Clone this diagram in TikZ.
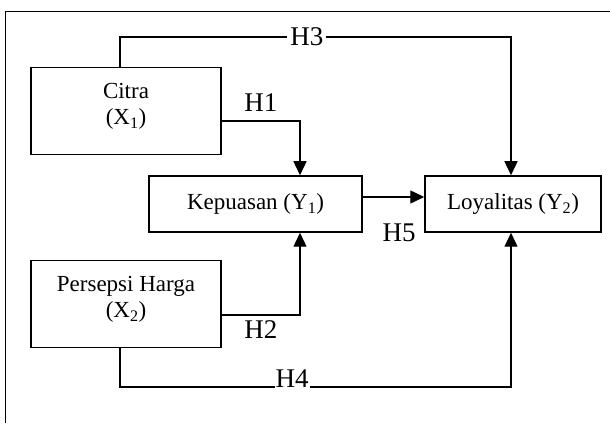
\documentclass[tikz,border=0pt]{standalone}
\usepackage{fontspec}
\setmainfont{Liberation Serif}
\usepackage{xcolor}
\usetikzlibrary{arrows.meta}

\tikzset{
  varbox/.style={draw=drawColor,line width=1.5pt,inner xsep=0pt,inner ysep=0pt,
    align=center,font=\fontsize{23}{26}\selectfont},
  xbox/.style={varbox,minimum width=190pt,text height=57pt,text depth=30pt},
  link/.style={draw=drawColor,line width=1.4pt,-{Triangle[length=14pt,width=13pt]}},
  hyp/.style={text=drawColor,inner sep=1pt,font=\fontsize{27}{30}\selectfont}
}

\begin{document}
\begin{tikzpicture}[x=1pt,y=1pt]
\definecolor{drawColor}{RGB}{0,0,0}
\definecolor{fillColor}{RGB}{255,255,255}
\path[use as bounding box,fill=fillColor] (0,0) rectangle (610,423);

% frame
\path[draw=drawColor,line width=1.2pt] (610,411.5) -- (5.5,411.5) -- (5.5,0);

% variables
\node[xbox] (citra) at (126,312) {Citra\\(X\textsubscript{1})};
\node[xbox] (persepsi) at (126,119) {Persepsi Harga\\(X\textsubscript{2})};
\node[varbox,minimum width=213pt,minimum height=56pt] (kepuasan) at (255.5,219) {Kepuasan (Y\textsubscript{1})};
\node[varbox,minimum width=176pt,minimum height=56pt] (loyalitas) at (513,219) {Loyalitas (Y\textsubscript{2})};

% bends of the paths
\coordinate (h3l) at (120,386);
\coordinate (h3r) at (511,386);
\coordinate (h4l) at (120,36);
\coordinate (h4r) at (511,36);
\coordinate (h1j) at (300,302);
\coordinate (h2j) at (300,108);
\coordinate (h5y) at (393,226);

% hypotheses
\draw[link] (citra.east |- h1j) -- node[hyp,above=8pt] (h1) {H1} (h1j) -- (kepuasan.north -| h1j);
\draw[link] (persepsi.east |- h2j) -- node[hyp,below=4pt] (h2) {H2} (h2j) -- (kepuasan.south -| h2j);
\draw[link] (citra.north -| h3l) -- (h3l)
  -- node[hyp,pos=0.478,fill=fillColor,inner xsep=3pt] (h3) {H3} (h3r)
  -- (loyalitas.north -| h3r);
\draw[link] (persepsi.south -| h4l) -- (h4l)
  -- node[hyp,pos=0.44,anchor=base,fill=fillColor] (h4) {H4} (h4r)
  -- (loyalitas.south -| h4r);
\draw[link] (kepuasan.east |- h5y) -- node[hyp,below=25pt,xshift=5.5pt] (h5) {H5} (loyalitas.west |- h5y);
\end{tikzpicture}
\end{document}
